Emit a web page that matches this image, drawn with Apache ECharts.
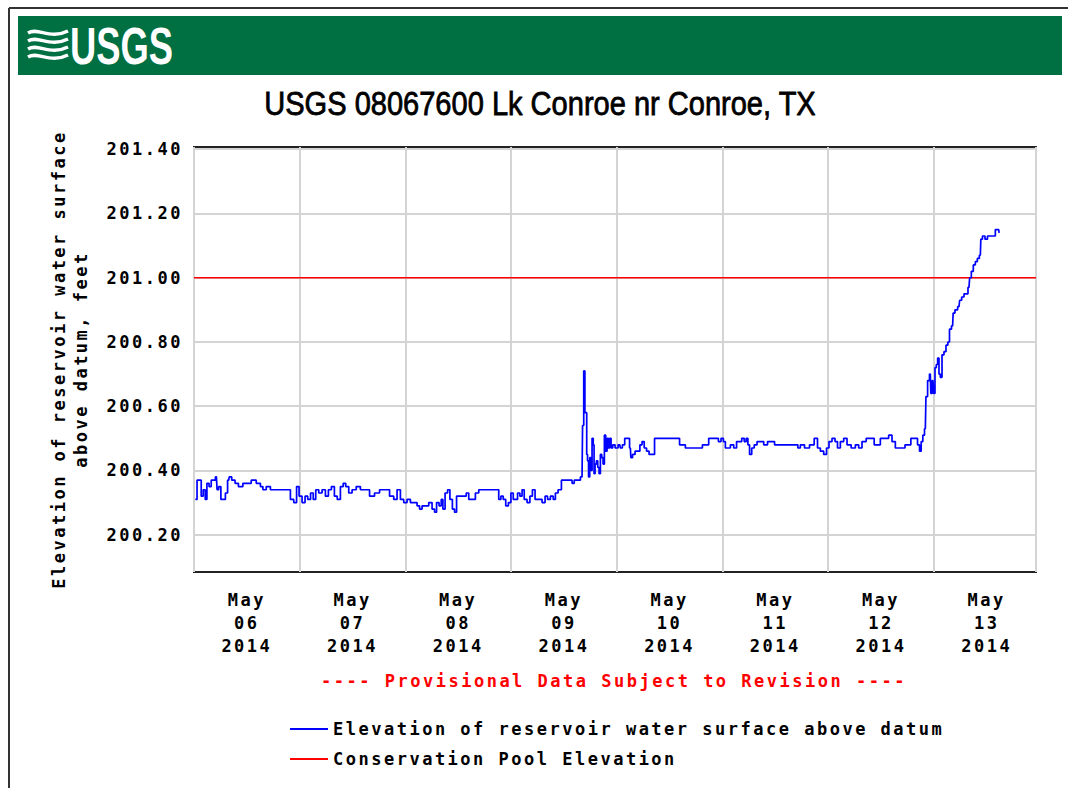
<!DOCTYPE html>
<html>
<head>
<meta charset="utf-8">
<script src="https://cdn.jsdelivr.net/npm/echarts@6/dist/echarts.min.js"></script>
<style>
html, body { margin: 0; padding: 0; background: #ffffff; }
#chart { width: 1068px; height: 788px; }
#chart text[style*="Mono"], #chart text[font-family*="Mono"] { letter-spacing: 2.5px; }
</style>
</head>
<body>
<div id="chart"></div>
<script>
// ---- Data (hours since 2014-05-06 00:00, elevation in feet) ----
const readingsMay06to08 = [
  [0.30,200.31],[1.08,200.37],[1.45,200.37],[1.83,200.32],[2.36,200.34],[2.74,200.31],[3.12,200.36],[3.72,200.35],
  [4.10,200.37],[4.63,200.37],[5.09,200.38],[5.39,200.34],[5.84,200.35],[6.37,200.31],[6.90,200.31],[7.36,200.33],
  [7.89,200.37],[8.11,200.38],[9.02,200.37],[9.63,200.36],[10.54,200.35],[11.67,200.36],[12.43,200.36],[13.56,200.37],
  [14.70,200.36],[15.46,200.35],[15.84,200.34],[16.97,200.35],[17.73,200.34],[18.86,200.34],[20.38,200.34],[21.51,200.34],
  [22.27,200.31],[23.03,200.30],[23.56,200.35],[24.16,200.32],[24.92,200.30],[25.52,200.32],[26.13,200.31],[26.81,200.33],
  [27.34,200.31],[27.95,200.34],[28.70,200.33],[29.46,200.34],[30.22,200.32],[30.82,200.34],[31.58,200.35],[32.18,200.32],
  [32.87,200.31],[33.62,200.35],[34.15,200.36],[34.76,200.35],[35.52,200.33],[36.27,200.34],[37.41,200.35],[38.16,200.34],
  [39.30,200.34],[40.43,200.32],[41.57,200.33],[42.70,200.34],[43.84,200.34],[44.98,200.32],[45.73,200.31],[46.49,200.34],
  [47.25,200.31],[48.00,200.30],[48.76,200.31]
];
const readingsMay08to09 = [
  [49.52,200.30],[50.28,200.30],[51.03,200.29],[51.41,200.28],[52.17,200.29],[52.93,200.29],[53.68,200.30],[54.44,200.28],
  [54.82,200.27],[55.35,200.30],[55.95,200.29],[56.33,200.31],[56.71,200.28],[57.32,200.33],[57.85,200.34],[58.37,200.31],
  [58.98,200.28],[59.36,200.27],[59.89,200.32],[60.87,200.32],[61.63,200.32],[62.01,200.33],[62.77,200.31],[63.52,200.31],
  [64.28,200.33],[65.04,200.34],[66.55,200.34],[67.69,200.34],[68.97,200.34],[69.43,200.31],[69.95,200.32],[70.49,200.31],
  [71.09,200.29],[71.70,200.30],[72.23,200.33],[72.76,200.31],[73.21,200.31],[73.74,200.33],[74.27,200.32],[74.72,200.34],
  [75.25,200.31],[76.01,200.30],[76.54,200.32],[77.15,200.34],[77.75,200.31],[78.66,200.31],[79.42,200.30],[80.02,200.32],
  [80.55,200.31],[81.31,200.32],[81.84,200.31],[82.29,200.33],[83.05,200.34],[83.81,200.37],[84.72,200.37],[85.62,200.37],
  [86.08,200.36],[86.61,200.37],[87.37,200.37],[88.12,200.38]
];
const readingsMay09to11 = [
  [88.35,200.54],[88.65,200.71],[88.88,200.58],[89.10,200.58],[89.25,200.45],[89.48,200.43],[89.71,200.38],[90.01,200.44],
  [90.24,200.40],[90.54,200.50],[90.77,200.48],[90.92,200.39],[91.22,200.42],[91.53,200.43],[91.83,200.41],[92.13,200.39],
  [92.43,200.45],[92.74,200.44],[93.04,200.42],[93.34,200.51],[93.64,200.46],[93.95,200.50],[94.25,200.47],[94.55,200.50],
  [94.86,200.47],[95.31,200.48],[95.92,200.47],[96.67,200.48],[96.97,200.47],[97.58,200.48],[98.03,200.50],[98.72,200.50],
  [99.09,200.47],[99.32,200.44],[99.85,200.45],[100.46,200.46],[100.99,200.46],[101.52,200.48],[101.97,200.49],[102.50,200.47],
  [103.03,200.46],[103.64,200.45],[104.39,200.45],[104.77,200.50],[105.30,200.50],[106.28,200.50],[107.42,200.50],[108.93,200.50],
  [110.07,200.50],[110.45,200.48],[111.20,200.48],[111.96,200.47],[112.72,200.47],[113.63,200.47],[114.23,200.47],[115.14,200.47],
  [115.75,200.48],[116.50,200.48],[117.26,200.50],[118.17,200.50],[118.77,200.50],[119.38,200.49],[119.98,200.50],[120.44,200.49],
  [120.89,200.47],[121.42,200.47],[122.18,200.48],[122.94,200.47],[123.47,200.49],[124.07,200.49],[124.68,200.50],[125.21,200.49],
  [125.59,200.50],[125.97,200.48],[126.34,200.45],[126.95,200.47],[127.48,200.48],[128.24,200.49],[128.99,200.49],[129.75,200.48],
  [130.73,200.49],[131.64,200.49],[132.02,200.48],[133.16,200.48],[135.43,200.48]
];
const readingsMay11to13 = [
  [136.93,200.48],[137.31,200.47],[138.07,200.48],[139.20,200.47],[140.34,200.48],[141.32,200.50],[141.85,200.47],[142.61,200.46],
  [143.37,200.45],[143.89,200.47],[144.50,200.49],[145.26,200.50],[145.86,200.49],[146.39,200.47],[147.15,200.49],[147.91,200.50],
  [148.66,200.48],[149.80,200.47],[150.56,200.48],[151.31,200.47],[152.07,200.49],[153.21,200.50],[154.19,200.50],[154.72,200.48],
  [155.48,200.48],[156.23,200.50],[157.37,200.50],[158.12,200.51],[158.88,200.49],[159.64,200.47],[160.40,200.47],[161.15,200.47],
  [161.76,200.48],[162.52,200.48],[163.05,200.50],[164.03,200.50],[164.56,200.48],[164.94,200.46],[165.32,200.49],[165.69,200.51],
  [166.07,200.53]
];
const readingsMay13Rise = [
  [166.35,200.63],[166.82,200.68],[167.20,200.70],[167.43,200.64],[167.81,200.68],[168.11,200.64],[168.41,200.72],[168.72,200.73],
  [169.02,200.75],[169.32,200.70],[169.63,200.69],[170.08,200.76],[170.53,200.77],[170.99,200.79],[171.37,200.80],[171.74,200.84],
  [172.27,200.85],[172.50,200.89],[173.11,200.90],[173.71,200.91],[174.02,200.93],[174.62,200.94],[175.08,200.95],[175.53,200.95],
  [175.98,200.97],[176.29,201.00],[176.74,201.02],[177.19,201.04],[177.65,201.05],[178.10,201.06],[178.56,201.07],[178.78,201.12],
  [179.31,201.13],[179.92,201.12],[180.45,201.13],[181.21,201.13],[181.74,201.13],[182.19,201.15],[182.72,201.15],[182.95,201.14]
];
const poolElevation = 201.00;
const dayTickHours = [12, 36, 60, 84, 108, 132, 156, 180];
const dayMonths = ['May','May','May','May','May','May','May','May'];
const dayNumbers = ['06','07','08','09','10','11','12','13'];
const dayYears = ['2014','2014','2014','2014','2014','2014','2014','2014'];
const yTickValues = [200.20, 200.40, 200.60, 200.80, 201.00, 201.20, 201.40];
const seriesNames = ['Elevation of reservoir water surface above datum', 'Conservation Pool Elevation'];

const elevationData = [].concat(readingsMay06to08, readingsMay08to09, readingsMay09to11, readingsMay11to13, readingsMay13Rise);
const X_MIN = 0, X_MAX = 191.2;
const poolData = [[X_MIN, poolElevation], [X_MAX, poolElevation]];

const MONO = '"DejaVu Sans Mono", "Liberation Mono", monospace';

const chart = echarts.init(document.getElementById('chart'), null, { renderer: 'svg' });
chart.setOption({
  animation: false,
  backgroundColor: '#ffffff',
  grid: { left: 194, right: 32, top: 147, bottom: 216, show: true, borderColor: '#222222', borderWidth: 2, backgroundColor: 'transparent' },
  xAxis: {
    type: 'value', min: X_MIN, max: X_MAX, interval: 24,
    axisLine: { show: false },
    axisTick: { show: false },
    splitLine: { show: true, lineStyle: { color: '#d4d4d4', width: 2 } },
    axisLabel: {
      customValues: dayTickHours,
      margin: 16,
      color: '#000', fontFamily: MONO, fontWeight: 'bold', fontSize: 17, lineHeight: 23,
      formatter: function (v) {
        const i = dayTickHours.indexOf(v);
        return i >= 0 ? dayMonths[i] + '\n' + dayNumbers[i] + '\n' + dayYears[i] : '';
      }
    }
  },
  yAxis: {
    type: 'value', min: 200.084, max: 201.407,
    name: 'Elevation of reservoir water surface\nabove datum, feet',
    nameLocation: 'middle', nameGap: 102,
    nameTextStyle: { color: '#000', fontFamily: MONO, fontWeight: 'bold', fontSize: 17, lineHeight: 22 },
    axisLine: { show: false },
    axisTick: { show: false, customValues: yTickValues },
    splitLine: { show: true, lineStyle: { color: '#d4d4d4', width: 2 } },
    axisLabel: {
      customValues: yTickValues,
      margin: 11,
      color: '#000', fontFamily: MONO, fontWeight: 'bold', fontSize: 17,
      formatter: function (v) { return v.toFixed(2); }
    }
  },
  legend: {
    orient: 'vertical', left: 290, top: 719, itemGap: 10, padding: 0,
    itemWidth: 38, itemHeight: 2, icon: 'rect',
    data: seriesNames,
    textStyle: { color: '#000', fontFamily: MONO, fontWeight: 'bold', fontSize: 17, lineHeight: 20 }
  },
  series: [
    {
      name: seriesNames[0], type: 'line', data: elevationData, step: 'middle',
      showSymbol: false, symbol: 'none',
      lineStyle: { color: '#0000ff', width: 1.7 }, itemStyle: { color: '#0000ff' }, z: 3
    },
    {
      name: seriesNames[1], type: 'line', data: poolData,
      showSymbol: false, symbol: 'none',
      lineStyle: { color: '#ff0000', width: 1.6 }, itemStyle: { color: '#ff0000' }, z: 2
    }
  ],
  graphic: [
    { type: 'line', shape: { x1: 9, y1: 8, x2: 1068, y2: 8 }, style: { stroke: '#333', lineWidth: 2 } },
    { type: 'line', shape: { x1: 9, y1: 8, x2: 9, y2: 788 }, style: { stroke: '#333', lineWidth: 2 } },
    { type: 'rect', shape: { x: 18, y: 16, width: 1044, height: 59 }, style: { fill: '#006f41' } },
    { type: 'bezierCurve', shape: { x1: 28, y1: 33, cpx1: 38, cpy1: 27, cpx2: 50, cpy2: 40, x2: 68, y2: 31 }, style: { stroke: '#fff', lineWidth: 3.5, fill: null } },
    { type: 'bezierCurve', shape: { x1: 28, y1: 41, cpx1: 38, cpy1: 35, cpx2: 50, cpy2: 48, x2: 68, y2: 39 }, style: { stroke: '#fff', lineWidth: 3.5, fill: null } },
    { type: 'bezierCurve', shape: { x1: 28, y1: 49, cpx1: 38, cpy1: 43, cpx2: 50, cpy2: 56, x2: 68, y2: 47 }, style: { stroke: '#fff', lineWidth: 3.5, fill: null } },
    { type: 'bezierCurve', shape: { x1: 28, y1: 57, cpx1: 38, cpy1: 51, cpx2: 50, cpy2: 64, x2: 68, y2: 55 }, style: { stroke: '#fff', lineWidth: 3.5, fill: null } },
    { type: 'text', x: 70, y: 46, scaleX: 0.7, style: { text: 'USGS', x: 0, y: 0, fill: '#fff', font: 'bold 52px "Liberation Sans", Arial, sans-serif', textAlign: 'left', textVerticalAlign: 'middle' } },
    { type: 'text', x: 540, y: 104, scaleX: 0.88, style: { text: 'USGS 08067600 Lk Conroe nr Conroe, TX', x: 0, y: 0, fill: '#000', stroke: '#000', lineWidth: 0.8, font: '33px "Liberation Sans", Arial, sans-serif', textAlign: 'center', textVerticalAlign: 'middle' } },
    { type: 'text', x: 614, y: 681, style: { text: '---- Provisional Data Subject to Revision ----', x: 0, y: 0, fill: '#ff0000', font: 'bold 17px "DejaVu Sans Mono", "Liberation Mono", monospace', textAlign: 'center', textVerticalAlign: 'middle' } }
  ]
});
</script>
</body>
</html>
